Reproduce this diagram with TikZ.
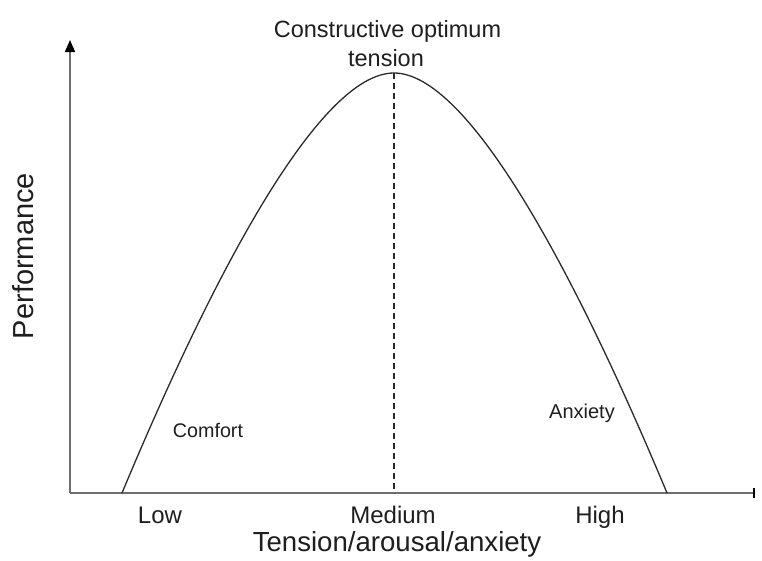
\documentclass[tikz,border=0pt]{standalone}
\usepackage{fontspec}
\setmainfont{Liberation Sans}
\usetikzlibrary{arrows.meta}
\definecolor{axisgray}{HTML}{6E6E6E}
\definecolor{curvegray}{HTML}{2A2A2A}
\definecolor{txt}{HTML}{1E1E1E}
\tikzset{
  axisline/.style={draw=axisgray, line width=1.6pt},
  curveline/.style={draw=curvegray, line width=1.3pt},
  guideline/.style={draw=curvegray, line width=1.2pt, dash pattern=on 6pt off 4pt},
  lbl/.style={inner sep=0pt, text=txt, anchor=base},
}
\newcommand{\fsz}[1]{\fontsize{#1}{#1}\selectfont}
\begin{document}
\begin{tikzpicture}[x=1pt, y=-1pt]
\useasboundingbox (0,0) rectangle (762,560);
% axes
\coordinate (origin) at (70,493);
\coordinate (ytop) at (70,40);
\coordinate (xend) at (755,493);
\draw[axisline, -{Triangle[length=12pt, width=10pt, black]}] (origin) -- (ytop);
\draw[axisline, -{Bar[width=10pt, line width=2pt, black]}] (origin) -- (xend);
% curve
\coordinate (cstart) at (122,493);
\coordinate (peak) at (394,73);
\coordinate (cend) at (667,493);
\coordinate (base) at (394,493);
\draw[curveline] (cstart) .. controls (215,270) and (320,73) .. (peak)
                 .. controls (468,73) and (574,270) .. (cend);
\draw[guideline] (peak) -- (base);
% labels
\node[lbl] (title1) at (387.5,37) {\fsz{23.5}Constructive optimum};
\node[lbl] (title2) at (386,66) {\fsz{23.5}tension};
\node[lbl, rotate=90] (ylab) at (33,256) {\fsz{29}Performance};
\node[lbl] (comfort) at (208,437) {\fsz{19.7}Comfort};
\node[lbl] (anxiety) at (582,418) {\fsz{20}Anxiety};
\node[lbl] (low) at (160,523) {\fsz{24}Low};
\node[lbl] (medium) at (393,523) {\fsz{24}Medium};
\node[lbl] (high) at (600,523) {\fsz{24}High};
\node[lbl] (xlab) at (397,551) {\fsz{27.6}Tension/arousal/anxiety};
\end{tikzpicture}
\end{document}
